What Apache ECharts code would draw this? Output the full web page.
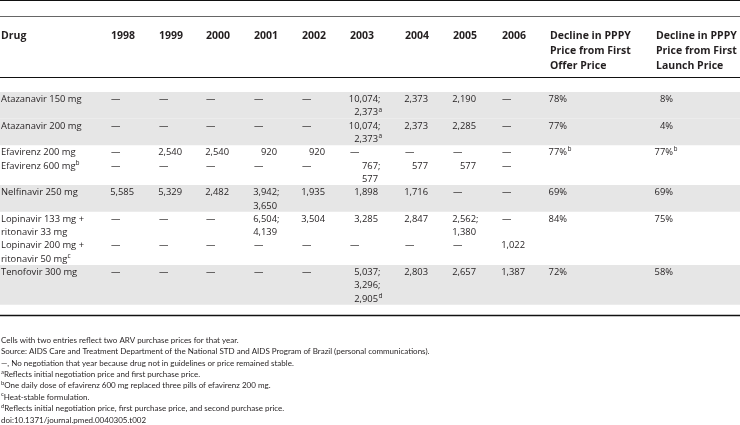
<!DOCTYPE html>
<html><head><meta charset="utf-8">
<script src="https://cdn.jsdelivr.net/npm/echarts@6/dist/echarts.min.js"></script>
<style>html,body{margin:0;padding:0;background:#fff}#c{width:740px;height:425px}</style>
</head><body><div id="c"></div>
<script>
// ---------------- DATA ----------------
const columnHeaders = ['Drug', '1998', '1999', '2000', '2001', '2002', '2003', '2004', '2005', '2006',
  'Decline in PPPY\nPrice from First\nOffer Price', 'Decline in PPPY\nPrice from First\nLaunch Price'];
const drugNames = ['Atazanavir 150 mg', 'Atazanavir 200 mg', 'Efavirenz 200 mg', 'Efavirenz 600 mg^b',
  'Nelfinavir 250 mg', 'Lopinavir 133 mg +\nritonavir 33 mg', 'Lopinavir 200 mg +\nritonavir 50 mg^c', 'Tenofovir 300 mg'];
const price1998 = ['—', '—', '—', '—', '5,585', '—', '—', '—'];
const price1999 = ['—', '—', '2,540', '—', '5,329', '—', '—', '—'];
const price2000 = ['—', '—', '2,540', '—', '2,482', '—', '—', '—'];
const price2001 = ['—', '—', '920', '—', '3,942;\n3,650', '6,504;\n4,139', '—', '—'];
const price2002 = ['—', '—', '920', '—', '1,935', '3,504', '—', '—'];
const price2003 = ['10,074;\n2,373^a', '10,074;\n2,373^a', '—', '767;\n577', '1,898', '3,285', '—', '5,037;\n3,296;\n2,905^d'];
const price2004 = ['2,373', '2,373', '—', '577', '1,716', '2,847', '—', '2,803'];
const price2005 = ['2,190', '2,285', '—', '577', '—', '2,562;\n1,380', '—', '2,657'];
const price2006 = ['—', '—', '—', '—', '—', '—', '1,022', '1,387'];
const declineFromOffer = ['78%', '77%', '77%^b', '', '69%', '84%', '', '72%'];
const declineFromLaunch = ['8%', '4%', '77%^b', '', '69%', '75%', '', '58%'];
const drugGroup = [0, 0, 1, 1, 2, 3, 3, 4];
const footnotes = [
  ['', 'Cells with two entries reflect two ARV purchase prices for that year.'],
  ['', 'Source: AIDS Care and Treatment Department of the National STD and AIDS Program of Brazil (personal communications).'],
  ['', '—, No negotiation that year because drug not in guidelines or price remained stable.'],
  ['a', 'Reflects initial negotiation price and first purchase price.'],
  ['b', 'One daily dose of efavirenz 600 mg replaced three pills of efavirenz 200 mg.'],
  ['c', 'Heat-stable formulation.'],
  ['d', 'Reflects initial negotiation price, first purchase price, and second purchase price.'],
  ['', 'doi:10.1371/journal.pmed.0040305.t002']
];

// ---------------- LAYOUT ----------------
const W = 740, H = 425;
const L = {
  colX:     [1, 111, 159, 206, 254, 302, 350, 405, 453, 502, 550, 656],
  colRight: [0, 134, 182, 229, 277, 325, 378, 428, 476, 525, 567, 673],
  headerFirst: 36.5, headerLH: 15,
  bodyTop: 92, bodyLH: 13.3, bodyCenter: 7.5,
  footFirst: 340.5, footLH: 11.35,
  rules: [[0.5, 1, '#111'], [16.5, 1, '#666'], [77.5, 1.2, '#111'], [315.5, 1.5, '#111']],
  shade: '#e6e6e6'
};
const INK = '#231f20';
const STY = {
  header: { font: "'Open Sans', sans-serif", size: 10.5, weight: 'bold', lh: 15, sup: 7 },
  body:   { font: "'Open Sans', sans-serif", size: 9.4, weight: 'normal', lh: 13.3, sup: 6.5 },
  foot:   { font: "Lato, sans-serif", size: 8.0, weight: 'normal', lh: 11.3, sup: 5.8 }
};

// ---------------- BUILD ----------------
const tableCols = [drugNames, price1998, price1999, price2000, price2001, price2002, price2003,
  price2004, price2005, price2006, declineFromOffer, declineFromLaunch];
const nRows = drugNames.length;
const rowLines = [];
for (let r = 0; r < nRows; r++) {
  let m = 1;
  tableCols.forEach(col => { if (col[r]) m = Math.max(m, col[r].split('\n').length); });
  rowLines.push(m);
}
const lineStart = [];
let acc = 0;
rowLines.forEach(n => { lineStart.push(acc); acc += n; });

const bands = [];
for (let r = 0; r < nRows; r++) {
  if (drugGroup[r] % 2 !== 0) continue;
  const top = L.bodyTop + lineStart[r] * L.bodyLH;
  bands.push([top, top + rowLines[r] * L.bodyLH]);
}

function parseLine(s) {
  const m = s.match(/^(.*?)(;?)(?:\^(\w))?$/);
  return { main: m[1], tail: m[2], sup: m[3] || '' };
}

const pieces = [];
columnHeaders.forEach((h, c) => {
  h.split('\n').forEach((t, i) => {
    pieces.push({ x: L.colX[c], y: L.headerFirst + i * L.headerLH, kind: 'header', align: 'left', main: t, tail: '', sup: '', pre: '' });
  });
});
tableCols.forEach((col, c) => {
  for (let r = 0; r < nRows; r++) {
    const cell = col[r];
    if (!cell) continue;
    cell.split('\n').forEach((ln, i) => {
      const p = parseLine(ln);
      const y = L.bodyTop + (lineStart[r] + i) * L.bodyLH + L.bodyCenter;
      if (c === 0 || p.main === '—') {
        pieces.push({ x: L.colX[c], y, kind: 'body', align: 'left', main: p.main + p.tail, tail: '', sup: p.sup, pre: '' });
      } else {
        pieces.push({ x: L.colRight[c], y, kind: 'body', align: 'right', main: p.main, tail: p.tail, sup: p.sup, pre: '' });
      }
    });
  }
});
footnotes.forEach(([s, t], i) => {
  pieces.push({ x: 1, y: L.footFirst + i * L.footLH, kind: 'foot', align: 'left', main: t, tail: '', sup: '', pre: s });
});

function richFor(kind) {
  const s = STY[kind];
  return {
    m: { fontFamily: s.font, fontSize: s.size, fontWeight: s.weight, lineHeight: s.lh, fill: INK },
    s: { fontFamily: s.font, fontSize: s.sup, fontWeight: 'normal', lineHeight: s.sup + 1, verticalAlign: 'top', fill: INK }
  };
}
function textEl(x, y, str, align, kind) {
  return {
    type: 'text', x, y,
    style: { text: str, rich: richFor(kind), align, textAlign: align, verticalAlign: 'middle', textVerticalAlign: 'middle', fill: INK }
  };
}

const chart = echarts.init(document.getElementById('c'), null, { renderer: 'canvas', width: W, height: H });
chart.setOption({
  animation: false,
  backgroundColor: '#fff',
  grid: { left: 0, right: 0, top: 0, bottom: 0 },
  xAxis: { type: 'value', min: 0, max: W, show: false },
  yAxis: { type: 'value', min: 0, max: H, inverse: true, show: false },
  series: [
    {
      type: 'custom', silent: true, z: 1,
      data: bands,
      renderItem: (params, api) => {
        const a = api.coord([0, api.value(0)]);
        const b = api.coord([W, api.value(1)]);
        return { type: 'rect', shape: { x: a[0], y: a[1], width: b[0] - a[0], height: b[1] - a[1] }, style: { fill: L.shade } };
      }
    },
    {
      type: 'custom', silent: true, z: 2,
      data: L.rules.map(r => [r[0], r[1]]),
      renderItem: (params, api) => {
        const a = api.coord([0, api.value(0)]);
        const b = api.coord([W, api.value(0)]);
        const rule = L.rules[params.dataIndex];
        return { type: 'line', shape: { x1: a[0], y1: a[1], x2: b[0], y2: b[1] }, style: { stroke: rule[2], lineWidth: api.value(1) } };
      }
    },
    {
      type: 'custom', silent: true, z: 3,
      data: pieces.map((p, i) => [p.x, p.y, i]),
      renderItem: (params, api) => {
        const p = pieces[api.value(2)];
        const pt = api.coord([api.value(0), api.value(1)]);
        if (p.align === 'left') {
          let str = '';
          if (p.pre) str += '{s|' + p.pre + '}';
          str += '{m|' + p.main + '}';
          if (p.sup) str += '{s|' + p.sup + '}';
          return textEl(pt[0], pt[1], str, 'left', p.kind);
        }
        const st = STY[p.kind];
        const children = [textEl(pt[0], pt[1], '{m|' + p.main + '}', 'right', p.kind)];
        if (p.tail) children.push(textEl(pt[0], pt[1], '{m|' + p.tail + '}', 'left', p.kind));
        if (p.sup) children.push(textEl(pt[0] + 0.5, pt[1] - (st.lh - st.sup - 1) / 2, '{s|' + p.sup + '}', 'left', p.kind));
        return { type: 'group', children };
      }
    }
  ]
});
</script>
</body></html>
